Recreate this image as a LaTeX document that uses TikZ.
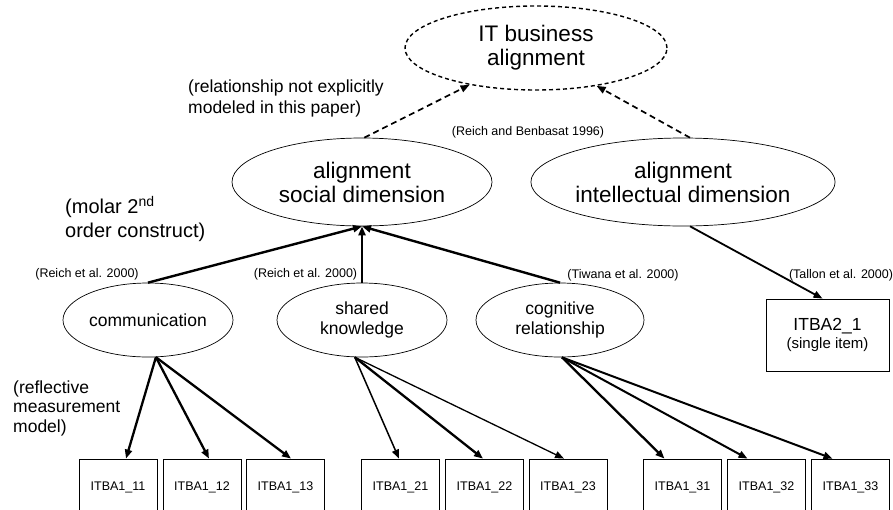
\documentclass[tikz,border=0pt]{standalone}
\usepackage{fontspec}
\setmainfont{Liberation Sans}
\usetikzlibrary{shapes.geometric,arrows.meta}
\begin{document}
\begin{tikzpicture}[x=1pt,y=-1pt,
  lat/.style={ellipse,draw,line width=0.7pt,inner sep=0pt,align=center},
  bigfont/.style={font=\fontsize{22.5}{24}\selectfont},
  midfont/.style={font=\fontsize{17.5}{20}\selectfont},
  smallfont/.style={font=\fontsize{12.5}{14}\selectfont},
  item/.style={draw,line width=0.8pt,minimum width=78pt,minimum height=56pt,inner sep=0pt,font=\fontsize{12.5}{14}\selectfont},
  arr/.style={-{Triangle[length=9pt,width=7pt]}},
  dasharr/.style={-{Triangle[length=9pt,width=7pt]},line width=1.7pt,dash pattern=on 6pt off 4pt},
  note/.style={align=left,inner sep=0pt,anchor=west}
]
\useasboundingbox (0,0) rectangle (893,509);
\begin{scope}
\clip (0,0) rectangle (893,509);
% latent constructs
\node[lat,bigfont,dash pattern=on 4pt off 3pt,line width=1.4pt,minimum width=262pt,minimum height=84pt] (itba) at (536,48) {IT business\\alignment};
\node[lat,bigfont,minimum width=260pt,minimum height=88pt] (soc) at (362,182) {alignment\\social dimension};
\node[lat,bigfont,minimum width=260pt,minimum height=88pt] (int) at (683,182) {alignment\\intellectual dimension};
\node[lat,midfont,minimum width=170pt,minimum height=74pt] (comm) at (148,320) {communication};
\node[lat,midfont,minimum width=170pt,minimum height=74pt] (shk) at (362,320) {shared\\knowledge};
\node[lat,midfont,minimum width=168pt,minimum height=74pt] (cog) at (560,320) {cognitive\\relationship};
% single item box
\node[draw,line width=0.8pt,minimum width=123pt,minimum height=72pt,inner sep=0pt,align=center,font=\fontsize{15}{18}\selectfont] (single) at (827.5,335)
  {{\fontsize{17.5}{18}\selectfont ITBA2\_1}\\{\fontsize{15}{18}\selectfont (single item)}};
% indicator boxes
\node[item] (b11) at (118,487) {ITBA1\_11};
\node[item] (b12) at (202,487) {ITBA1\_12};
\node[item] (b13) at (285.5,487) {ITBA1\_13};
\node[item] (b21) at (400.5,487) {ITBA1\_21};
\node[item] (b22) at (484.5,487) {ITBA1\_22};
\node[item] (b23) at (568,487) {ITBA1\_23};
\node[item] (b31) at (682.5,487) {ITBA1\_31};
\node[item] (b32) at (766.5,487) {ITBA1\_32};
\node[item] (b33) at (850.5,487) {ITBA1\_33};
% annotations
\node[note,font=\fontsize{17.5}{21}\selectfont] (n1) at (188,98) {(relationship not explicitly\\modeled in this paper)};
\node[note,font=\fontsize{20}{24}\selectfont] (n2) at (65,219) {(molar 2\textsuperscript{nd}\\order construct)};
\node[note,font=\fontsize{17.5}{19.5}\selectfont] (n3) at (13,408) {(reflective\\measurement\\model)};
\node[smallfont,inner sep=0pt] (r1) at (87,274) {(Reich et al. 2000)};
\node[smallfont,inner sep=0pt] (r2) at (305.5,274) {(Reich et al. 2000)};
\node[smallfont,inner sep=0pt] (r3) at (623,275) {(Tiwana et al. 2000)};
\node[smallfont,inner sep=0pt] (r4) at (841,275) {(Tallon et al. 2000)};
\node[smallfont,inner sep=0pt] (r5) at (528,132) {(Reich and Benbasat 1996)};
% connectors
\draw[dasharr] (soc.87) -- (itba.209);
\draw[dasharr] (int.81) -- (itba.328);
\draw[arr,line width=2.4pt] (comm.north) -- (soc.south);
\draw[arr,line width=2.4pt] (shk.north) -- (soc.south);
\draw[arr,line width=2.4pt] (cog.north) -- (soc.south);
\draw[arr,line width=1.8pt] (int.279) -- ([xshift=-5pt]single.north);
\draw[arr,line width=2.3pt] (comm.282) -- ([xshift=8pt]b11.north);
\draw[arr,line width=2.3pt] (comm.282) -- ([xshift=7pt]b12.north);
\draw[arr,line width=2.3pt] (comm.282) -- ([xshift=5.5pt]b13.north);
\draw[arr,line width=1.5pt] (shk.259) -- ([xshift=-1.5pt]b21.north);
\draw[arr,line width=2.3pt] (shk.259) -- ([xshift=-1.5pt]b22.north);
\draw[arr,line width=1.3pt] (shk.259) -- ([xshift=-4pt]b23.north);
\draw[arr,line width=2.3pt] (cog.273) -- ([xshift=-18pt]b31.north);
\draw[arr,line width=2pt] (cog.273) -- ([xshift=-19pt]b32.north);
\draw[arr,line width=2pt] (cog.273) -- ([xshift=-18pt]b33.north);
\end{scope}
\end{tikzpicture}
\end{document}
